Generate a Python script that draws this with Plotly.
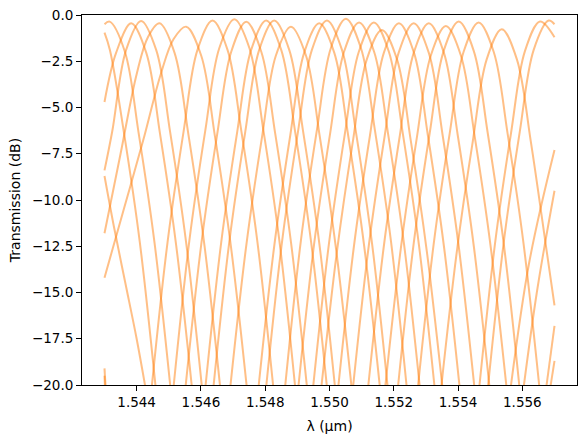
import plotly.graph_objects as go

# Wavelength (um) / transmission (dB) points, one list pair per visible lobe
wl_01 = [1.54300, 1.54316, 1.54363, 1.54406, 1.54456, 1.54516]
tr_01 = [-0.5, -0.36, -1.96, -6.36, -12.36, -22]
wl_02 = [1.54300, 1.54317, 1.54360, 1.54410, 1.54470]
tr_02 = [-0.95, -1.9, -6.3, -12.3, -22]
wl_03 = [1.54300, 1.54336, 1.54383, 1.54430, 1.54473, 1.54523, 1.54583]
tr_03 = [-4.7, -2.05, -0.45, -2.05, -6.45, -12.45, -22]
wl_04 = [1.54300, 1.54324, 1.54367, 1.54414, 1.54461, 1.54504, 1.54554, 1.54614]
tr_04 = [-8.4, -6.3, -1.9, -0.32, -1.9, -6.3, -12.3, -22]
wl_05 = [1.54300, 1.54350, 1.54400, 1.54435, 1.54471, 1.54518, 1.54561, 1.54611, 1.54671]
tr_05 = [-11.8, -7.5, -3.2, -1.2, -0.45, -2.05, -6.45, -12.45, -22]
wl_06 = [1.54300, 1.54360, 1.54420, 1.54475, 1.54515, 1.54554, 1.54601, 1.54644, 1.54694, 1.54754]
tr_06 = [-14.2, -10.5, -6.8, -3.2, -1.3, -0.63, -2.2, -6.6, -12.6, -22]
wl_07 = [1.54436, 1.54496, 1.54546, 1.54589, 1.54636, 1.54683, 1.54726, 1.54776, 1.54836]
tr_07 = [-22, -12.3, -6.3, -1.9, -0.3, -1.9, -6.3, -12.3, -22]
wl_08 = [1.54504, 1.54564, 1.54614, 1.54657, 1.54704, 1.54751, 1.54794, 1.54844, 1.54904]
tr_08 = [-22, -12.2, -6.2, -1.8, -0.23, -1.8, -6.2, -12.2, -22]
wl_09 = [1.54541, 1.54601, 1.54651, 1.54694, 1.54741, 1.54788, 1.54831, 1.54881, 1.54941]
tr_09 = [-22, -12.4, -6.4, -2.0, -0.36, -2.0, -6.4, -12.4, -22]
wl_10 = [1.54603, 1.54663, 1.54713, 1.54756, 1.54803, 1.54850, 1.54893, 1.54943, 1.55003]
tr_10 = [-22, -12.3, -6.3, -1.9, -0.3, -1.9, -6.3, -12.3, -22]
wl_11 = [1.54628, 1.54688, 1.54738, 1.54781, 1.54828, 1.54875, 1.54918, 1.54968, 1.55028]
tr_11 = [-22, -12.3, -6.3, -1.9, -0.3, -1.9, -6.3, -12.3, -22]
wl_12 = [1.54680, 1.54740, 1.54790, 1.54833, 1.54880, 1.54927, 1.54970, 1.55020, 1.55080]
tr_12 = [-22, -12.6, -6.6, -2.2, -0.63, -2.2, -6.6, -12.6, -22]
wl_13 = [1.54768, 1.54828, 1.54878, 1.54921, 1.54968, 1.55015, 1.55058, 1.55108, 1.55168]
tr_13 = [-22, -12.5, -6.5, -2.05, -0.45, -2.05, -6.5, -12.5, -22]
wl_14 = [1.54792, 1.54852, 1.54902, 1.54945, 1.54992, 1.55039, 1.55082, 1.55132, 1.55192]
tr_14 = [-22, -12.3, -6.3, -1.9, -0.3, -1.9, -6.3, -12.3, -22]
wl_15 = [1.54851, 1.54911, 1.54961, 1.55004, 1.55051, 1.55098, 1.55141, 1.55191, 1.55251]
tr_15 = [-22, -12.2, -6.2, -1.8, -0.2, -1.8, -6.2, -12.2, -22]
wl_16 = [1.54892, 1.54952, 1.55002, 1.55045, 1.55092, 1.55139, 1.55182, 1.55232, 1.55292]
tr_16 = [-22, -12.4, -6.4, -2.0, -0.4, -2.0, -6.4, -12.4, -22]
wl_17 = [1.54938, 1.54998, 1.55048, 1.55091, 1.55138, 1.55185, 1.55228, 1.55278, 1.55338]
tr_17 = [-22, -12.4, -6.4, -2.0, -0.4, -2.0, -6.4, -12.4, -22]
wl_18 = [1.54963, 1.55023, 1.55073, 1.55116, 1.55163, 1.55210, 1.55253, 1.55303, 1.55363]
tr_18 = [-22, -12.8, -6.8, -2.4, -0.81, -2.4, -6.8, -12.8, -22]
wl_19 = [1.55016, 1.55076, 1.55126, 1.55169, 1.55216, 1.55263, 1.55306, 1.55356, 1.55416]
tr_19 = [-22, -12.5, -6.5, -2.05, -0.45, -2.05, -6.5, -12.5, -22]
wl_20 = [1.55062, 1.55122, 1.55172, 1.55215, 1.55262, 1.55309, 1.55352, 1.55402, 1.55462]
tr_20 = [-22, -12.5, -6.5, -2.05, -0.45, -2.05, -6.5, -12.5, -22]
wl_21 = [1.55109, 1.55169, 1.55219, 1.55262, 1.55309, 1.55356, 1.55399, 1.55449, 1.55509]
tr_21 = [-22, -12.5, -6.5, -2.05, -0.45, -2.05, -6.5, -12.5, -22]
wl_22 = [1.55162, 1.55222, 1.55272, 1.55315, 1.55362, 1.55409, 1.55452, 1.55502, 1.55562]
tr_22 = [-22, -12.6, -6.6, -2.2, -0.6, -2.2, -6.6, -12.6, -22]
wl_23 = [1.55202, 1.55262, 1.55312, 1.55355, 1.55402, 1.55449, 1.55492, 1.55542, 1.55602]
tr_23 = [-22, -12.35, -6.35, -1.95, -0.35, -1.95, -6.35, -12.35, -22]
wl_24 = [1.55264, 1.55324, 1.55374, 1.55417, 1.55464, 1.55511, 1.55554, 1.55604, 1.55664]
tr_24 = [-22, -12.4, -6.4, -2.0, -0.4, -2.0, -6.4, -12.4, -22]
wl_25 = [1.55336, 1.55396, 1.55446, 1.55489, 1.55536, 1.55583, 1.55626, 1.55676, 1.55700]
tr_25 = [-22, -12.8, -6.8, -2.4, -0.77, -2.4, -6.8, -12.8, -15.7]
wl_26 = [1.55455, 1.55515, 1.55565, 1.55608, 1.55655, 1.55700]
tr_26 = [-22, -12.35, -6.35, -1.95, -0.35, -1.2]
wl_27 = [1.55482, 1.55542, 1.55592, 1.55635, 1.55682, 1.55700]
tr_27 = [-22, -12.3, -6.3, -1.9, -0.3, -0.5]
# partial lobes entering/leaving at the window edges
wl_28 = [1.54300, 1.54330, 1.54365, 1.54400, 1.54436]
tr_28 = [-8.7, -11.5, -14.5, -17.5, -21]
wl_29 = [1.54300, 1.54310]
tr_29 = [-19.1, -22]
wl_30 = [1.54300, 1.54306]
tr_30 = [-19.5, -22]
wl_31 = [1.55550, 1.55620, 1.55700]
tr_31 = [-22, -13.5, -7.3]
wl_32 = [1.55590, 1.55645, 1.55700]
tr_32 = [-22, -15, -9.5]
wl_33 = [1.55660, 1.55700]
tr_33 = [-22, -16.8]
wl_34 = [1.55670, 1.55700]
tr_34 = [-22, -18.7]

series = [
    (wl_01, tr_01), (wl_02, tr_02), (wl_03, tr_03), (wl_04, tr_04), (wl_05, tr_05),
    (wl_06, tr_06), (wl_07, tr_07), (wl_08, tr_08), (wl_09, tr_09), (wl_10, tr_10),
    (wl_11, tr_11), (wl_12, tr_12), (wl_13, tr_13), (wl_14, tr_14), (wl_15, tr_15),
    (wl_16, tr_16), (wl_17, tr_17), (wl_18, tr_18), (wl_19, tr_19), (wl_20, tr_20),
    (wl_21, tr_21), (wl_22, tr_22), (wl_23, tr_23), (wl_24, tr_24), (wl_25, tr_25),
    (wl_26, tr_26), (wl_27, tr_27), (wl_28, tr_28), (wl_29, tr_29), (wl_30, tr_30),
    (wl_31, tr_31), (wl_32, tr_32), (wl_33, tr_33), (wl_34, tr_34),
]

fig = go.Figure()
for wl, tr in series:
    fig.add_trace(go.Scatter(
        x=wl, y=tr, mode="lines",
        line=dict(color="#ff7f0e", width=2, shape="spline", smoothing=1.0),
        opacity=0.5, showlegend=False, hoverinfo="skip",
    ))

axis_common = dict(
    showline=True, linecolor="black", linewidth=1, mirror=True,
    ticks="outside", ticklen=5, tickwidth=1, tickcolor="black",
    showgrid=False, zeroline=False, automargin=False,
    tickfont=dict(family="DejaVu Sans", size=13.5, color="black"),
)
fig.update_layout(
    width=587, height=438,
    margin=dict(l=82, r=10, t=15, b=53, autoexpand=False),
    paper_bgcolor="white", plot_bgcolor="white",
    font=dict(family="DejaVu Sans", size=14, color="black"),
    xaxis=dict(range=[1.5423, 1.5577], tickmode="array",
               tickvals=[1.544, 1.546, 1.548, 1.550, 1.552, 1.554, 1.556],
               ticktext=["1.544", "1.546", "1.548", "1.550", "1.552", "1.554", "1.556"],
               title=dict(text="λ (µm)", standoff=11, font=dict(size=14)), **axis_common),
    yaxis=dict(range=[-20, 0], tickmode="array",
               tickvals=[0, -2.5, -5, -7.5, -10, -12.5, -15, -17.5, -20],
               ticktext=["0.0", "−2.5", "−5.0", "−7.5", "−10.0", "−12.5", "−15.0", "−17.5", "−20.0"],
               title=dict(text="Transmission (dB)", standoff=8, font=dict(size=14)), **axis_common),
)
fig.write_html(
    "out.html",
    config={"displayModeBar": False, "staticPlot": True},
    post_script="document.body.style.margin='0';document.body.style.overflow='hidden';",
)
